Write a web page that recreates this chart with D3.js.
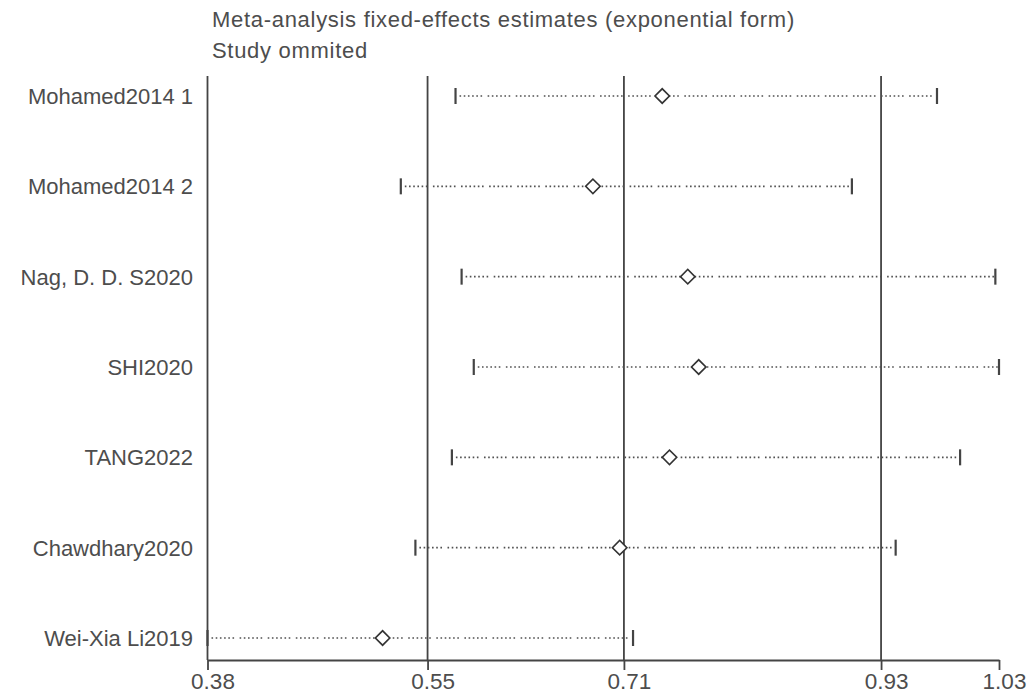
<!DOCTYPE html>
<html>
<head>
<meta charset="utf-8">
<script src="https://cdn.jsdelivr.net/npm/d3@7"></script>
<style>
  html, body { margin: 0; padding: 0; background: #fff; }
  svg { display: block; }
  text { font-family: "Liberation Sans", Arial, sans-serif; fill: #4d4d4d; }
</style>
</head>
<body>
<svg id="chart" width="1027" height="695"></svg>
<script>
// Influence analysis: pooled estimate with each study omitted in turn
const studies = ["Mohamed2014 1", "Mohamed2014 2", "Nag, D. D. S2020", "SHI2020", "TANG2022", "Chawdhary2020", "Wei-Xia Li2019"];
const estimates = [0.749, 0.692, 0.770, 0.779, 0.755, 0.714, 0.519];
const lowerCI   = [0.579, 0.534, 0.584, 0.594, 0.576, 0.546, 0.375];
const upperCI   = [0.975, 0.905, 1.023, 1.026, 0.994, 0.941, 0.725];

// axis marks: min lower limit, pooled lower limit, pooled estimate, pooled upper limit, max upper limit
const tickValues = [0.375, 0.556, 0.7175, 0.929, 1.026];
const tickLabels = ["0.38", "0.55", "0.71", "0.93", "1.03"];
const refLines   = [0.375, 0.556, 0.7175, 0.929];

const titleLines = ["Meta-analysis fixed-effects estimates (exponential form)", "Study ommited"];

const svg = d3.select("#chart");
const lineColor = "#444";

const plotTop = 76, axisY = 660;
const x = d3.scaleLinear().domain([0.375, 1.026]).range([207.5, 999]);
const y = d3.scalePoint().domain(studies).range([96, 638]);

const rows = studies.map((s, i) => ({ study: s, est: estimates[i], lo: lowerCI[i], hi: upperCI[i] }));

// titles
svg.selectAll("text.title").data(titleLines).join("text")
  .attr("class", "title")
  .attr("x", 212)
  .attr("y", (d, i) => 27 + i * 31)
  .style("font-size", "22px")
  .style("letter-spacing", "0.7px")
  .text(d => d);

// vertical reference lines
svg.selectAll("line.ref").data(refLines).join("line")
  .attr("class", "ref")
  .attr("x1", d => x(d)).attr("x2", d => x(d))
  .attr("y1", plotTop).attr("y2", axisY)
  .attr("stroke", lineColor).attr("stroke-width", 1.8);

// x axis
const axis = d3.axisBottom(x)
  .tickValues(tickValues)
  .tickFormat((d, i) => tickLabels[i])
  .tickSize(10)
  .tickSizeOuter(0)
  .tickPadding(3);

const gx = svg.append("g").attr("transform", `translate(0,${axisY})`).call(axis);
gx.select(".domain").attr("stroke", lineColor).attr("stroke-width", 1.8);
gx.selectAll(".tick line").attr("stroke", lineColor).attr("stroke-width", 1.8);
gx.selectAll(".tick text")
  .attr("dx", 5)
  .style("font-size", "22.5px")
  .style("font-family", "'Liberation Sans', Arial, sans-serif")
  .attr("fill", "#4d4d4d");

// study labels
svg.selectAll("text.study").data(rows).join("text")
  .attr("class", "study")
  .attr("x", 193)
  .attr("y", d => y(d.study))
  .attr("dy", "0.36em")
  .attr("text-anchor", "end")
  .style("font-size", "22px")
  .text(d => d.study);

// confidence intervals (dotted)
const g = svg.append("g");
g.selectAll("line.ci").data(rows).join("line")
  .attr("class", "ci")
  .attr("x1", d => x(d.lo) + 4).attr("x2", d => x(d.hi))
  .attr("y1", d => y(d.study)).attr("y2", d => y(d.study))
  .attr("stroke", "#505050").attr("stroke-width", 1.7)
  .attr("stroke-dasharray", "1.6 2.6 1.6 2.6 1.6 2.6 1.6 2.6 1.6 2.6 1.6 5.5");

// end caps
const caps = rows.flatMap(d => [{ study: d.study, v: d.lo }, { study: d.study, v: d.hi }]);
g.selectAll("line.cap").data(caps).join("line")
  .attr("class", "cap")
  .attr("x1", d => x(d.v)).attr("x2", d => x(d.v))
  .attr("y1", d => y(d.study) - 8).attr("y2", d => y(d.study) + 8)
  .attr("stroke", lineColor).attr("stroke-width", 2.2);

// point estimates (hollow diamonds)
const diamond = d3.symbol().type(d3.symbolSquare).size(105);
g.selectAll("path.est").data(rows).join("path")
  .attr("class", "est")
  .attr("d", diamond)
  .attr("transform", d => `translate(${x(d.est)},${y(d.study)}) rotate(45)`)
  .attr("fill", "#fff")
  .attr("stroke", "#333")
  .attr("stroke-width", 1.6);
</script>
</body>
</html>
